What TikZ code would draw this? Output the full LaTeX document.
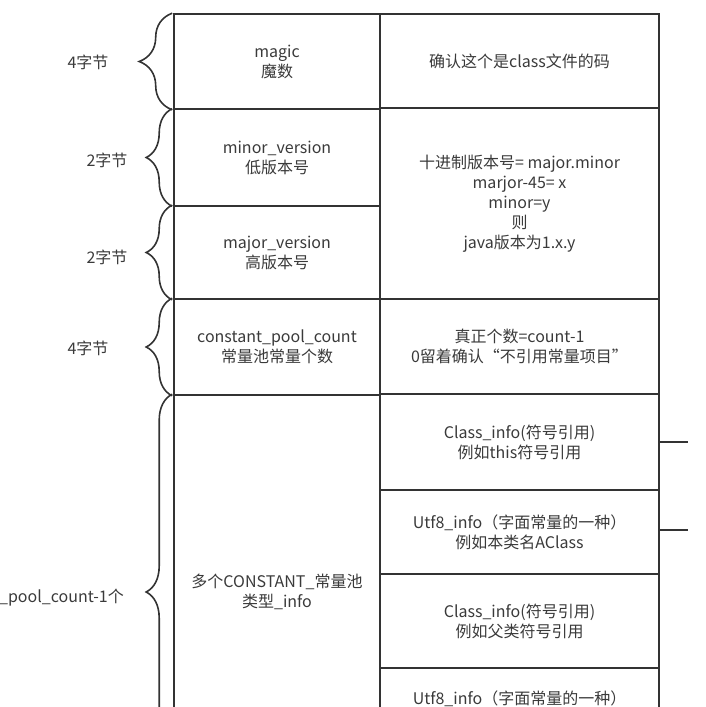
\documentclass[tikz,border=0pt]{standalone}
\usepackage{fontspec}
\setmainfont{Noto Sans CJK SC}
\usetikzlibrary{decorations.pathreplacing}
\definecolor{trait}{HTML}{333333}
\definecolor{texte}{HTML}{3A3A3A}
\begin{document}
\begin{tikzpicture}[x=1pt, y=-1pt]
\tikzset{champ/.style={draw=trait, line width=1.6pt, minimum width=206pt, align=center, inner sep=0pt, text=texte, font=\fontsize{16}{20}\selectfont}}
\tikzset{remarque/.style={champ, minimum width=279pt}}
\tikzset{etiquette/.style={text=texte, inner sep=0pt, font=\fontsize{16}{20}\selectfont}}
\tikzset{accolade/.style={decorate, decoration={brace, amplitude=#1}, draw=trait, line width=1.6pt}, accolade/.default=26pt}
\useasboundingbox (0,0) rectangle (705,707);
\clip (0,0) rectangle (705,707);
\node[champ, minimum height=95pt] (magic) at (277,61.5) {magic\\魔数};
\node[champ, minimum height=96pt] (minor) at (277,157.5) {minor\_version\\低版本号};
\node[champ, minimum height=93pt] (major) at (277,252.5) {major\_version\\高版本号};
\node[champ, minimum height=96pt] (cpc) at (277,347) {constant\_pool\_count\\常量池常量个数};
\node[champ, minimum height=394pt] (pool) at (277,592) {多个CONSTANT\_常量池\\类型\_info};
\node[remarque, minimum height=94pt] (magicnote) at (519.5,61) {确认这个是class文件的码};
\node[remarque, minimum height=191pt] (versionnote) at (519.5,203.5) {十进制版本号= major.minor\\marjor-45= x\\minor=y\\则\\java版本为1.x.y};
\node[remarque, minimum height=95pt] (countnote) at (519.5,346.5) {真正个数=count-1\\0留着确认“不引用常量项目”};
\node[remarque, minimum height=96pt] (cls1) at (519.5,442) {Class\_info(符号引用)\\例如this符号引用};
\node[remarque, minimum height=84pt] (utf1) at (519.5,532) {Utf8\_info（字面常量的一种）\\例如本类名AClass};
\node[remarque, minimum height=94pt] (cls2) at (519.5,621) {Class\_info(符号引用)\\例如父类符号引用};
\node[remarque, minimum height=84pt] (utf2) at (519.5,710) {};
\node[etiquette] (utf2txt) at (519.5,699) {Utf8\_info（字面常量的一种）};
\draw[accolade=33pt] ([xshift=-1pt]magic.south west) -- ([xshift=-1pt]magic.north west);
\draw[accolade] ([xshift=-1pt]minor.south west) -- ([xshift=-1pt]minor.north west);
\draw[accolade] ([xshift=-1pt]major.south west) -- ([xshift=-1pt]major.north west);
\draw[accolade] ([xshift=-1pt]cpc.south west) -- ([xshift=-1pt]cpc.north west);
\draw[accolade] ([xshift=-1pt]pool.south west) -- ([xshift=-1pt]pool.north west);
\node[etiquette] (taille1) at (88,62) {4字节};
\node[etiquette] (taille2) at (107,160) {2字节};
\node[etiquette] (taille3) at (107,257) {2字节};
\node[etiquette] (taille4) at (88,348) {4字节};
\node[etiquette, anchor=east] (taille5) at (124,598) {\_pool\_count-1个};
\coordinate (sortie1) at (688,442);
\coordinate (sortie2) at (688,530);
\draw[draw=trait, line width=1.6pt] (cls1.east) -- (sortie1);
\draw[draw=trait, line width=1.6pt] (utf1.east |- sortie2) -- (sortie2);
\end{tikzpicture}
\end{document}
